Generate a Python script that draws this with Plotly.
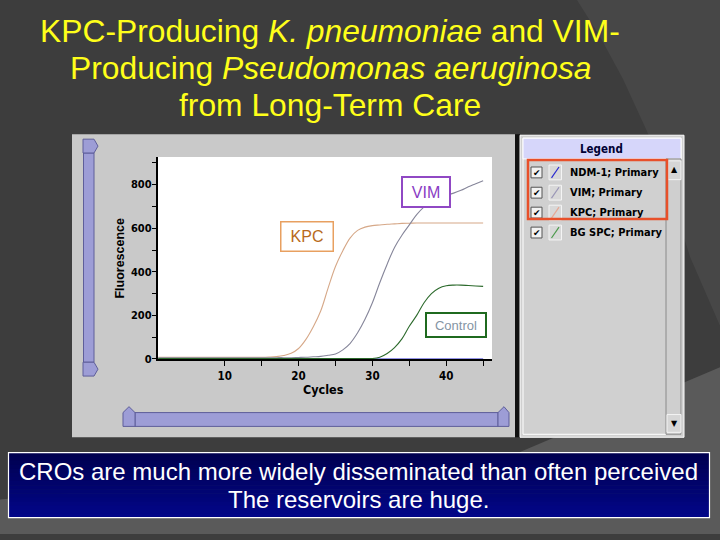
import plotly.graph_objects as go

# ---------------- data ----------------
cycles = list(range(1, 46))
kpc = [8, 8, 8, 8, 8, 8, 8, 8, 8, 8, 8, 8, 8, 8, 8, 9, 11, 16, 26, 48,
       90, 148, 220, 325, 424, 497, 556, 590, 605, 612, 615, 618, 620, 622, 623,
       624, 624, 624, 624, 624, 624, 624, 624, 624, 624]
vim = [5, 5, 5, 5, 5, 5, 5, 5, 5, 5, 5, 5, 5, 5, 5, 5, 6, 6, 6, 7,
       8, 10, 12, 17, 23, 42, 72, 120, 182, 258, 350, 435, 512, 568, 615,
       662, 698, 722, 740, 750, 761, 774, 790, 804, 818]
control = [2, 2, 2, 2, 2, 2, 2, 2, 2, 2, 2, 2, 2, 2, 2, 2, 2, 2, 2, 2,
           2, 2, 2, 2, 2, 2, 2, 2, 2, 2, 8, 25, 52, 92, 150,
           200, 258, 300, 325, 336, 339, 339, 337, 335, 333]
ndm1 = [0] * 45

series_names = ["NDM-1", "VIM", "KPC", "Control"]
legend_labels = ["NDM-1; Primary", "VIM; Primary", "KPC; Primary", "BG SPC; Primary"]
x_tick_vals = [10, 15, 20, 25, 30, 35, 40, 45]
x_tick_text = ["10", "", "20", "", "30", "", "40", ""]
y_tick_vals = [0, 100, 200, 300, 400, 500, 600, 700, 800, 900]
y_tick_text = ["0", "", "200", "", "400", "", "600", "", "800", ""]
title_lines = ["KPC-Producing <i>K. pneumoniae</i> and VIM-",
               "Producing <i>Pseudomonas aeruginosa</i>",
               "from Long-Term Care"]
banner_lines = ["CROs are much more widely disseminated than often perceived",
                "The reservoirs are huge."]

# ---------------- helpers ----------------
W, H = 720, 540
def X(p): return p / W
def Y(p): return 1 - p / H

shapes = []
annos = []

def rect(x0, y0, x1, y1, fill="rgba(0,0,0,0)", line=None, lw=0, layer="below"):
    shapes.append(dict(type="rect", xref="paper", yref="paper",
                       x0=X(x0), x1=X(x1), y0=Y(y1), y1=Y(y0),
                       fillcolor=fill,
                       line=dict(color=line or "rgba(0,0,0,0)", width=lw),
                       layer=layer))

def poly(pts, fill, line=None, lw=0, layer="below"):
    d = "M " + " L ".join(f"{X(a):.5f},{Y(b):.5f}" for a, b in pts) + " Z"
    shapes.append(dict(type="path", xref="paper", yref="paper", path=d,
                       fillcolor=fill,
                       line=dict(color=line or "rgba(0,0,0,0)", width=lw),
                       layer=layer))

def seg(x0, y0, x1, y1, color, lw=1, layer="below"):
    shapes.append(dict(type="line", xref="paper", yref="paper",
                       x0=X(x0), x1=X(x1), y0=Y(y0), y1=Y(y1),
                       line=dict(color=color, width=lw), layer=layer))

def text(x, y, s, size, color, family="Liberation Sans", xanchor="center",
         yanchor="middle", angle=0):
    annos.append(dict(xref="paper", yref="paper", x=X(x), y=Y(y), text=s,
                      showarrow=False, xanchor=xanchor, yanchor=yanchor,
                      textangle=angle,
                      font=dict(size=size, color=color, family=family)))

NARROW = "Liberation Sans Narrow, DejaVu Sans Condensed, sans-serif"

# ---------------- slide background ----------------
poly([(577, 0), (600, 37), (623, 80), (647, 133), (665, 180), (690, 260),
      (720, 330), (720, 0)], "#474747")
poly([(0, 506), (520, 458), (720, 372), (720, 541), (0, 541)], "#5a5a5a")

# ---------------- screenshot panel ----------------
rect(72, 136, 515, 443, fill="#c9c9c9")
rect(515, 136, 520, 443, fill="#111111")
# white plot area
rect(157.5, 159, 492, 363.7, fill="#ffffff")

# left vertical slider
slider_fill = "#9d9dd6"
slider_line = "#5e5e9a"
rect(83.5, 155, 94, 367, fill=slider_fill, line=slider_line, lw=1)
poly([(83, 141), (94, 141), (98, 148), (94, 155), (83, 155)], slider_fill, slider_line, 1)
poly([(83, 367), (94, 367), (98, 374), (94, 381), (83, 381)], slider_fill, slider_line, 1)
# bottom horizontal slider
rect(135, 418, 498, 432, fill=slider_fill, line=slider_line, lw=1)
poly([(123, 432), (123, 418), (129, 412), (135, 418), (135, 432)], slider_fill, slider_line, 1)
poly([(498, 432), (498, 418), (504, 412), (509, 418), (509, 432)], slider_fill, slider_line, 1)

# ---------------- legend panel ----------------
rect(520, 137, 684, 443, fill="#d0d0d0", line="#ffffff", lw=1)
rect(523, 140, 681, 440, line="#ffffff", lw=1)
rect(523, 140, 681, 161, fill="#d6d6fa", line="#ffffff", lw=1)
text(601, 151, "<b>Legend</b>", 11.5, "#000033", family=NARROW)
# scrollbar
rect(666, 161, 681, 440, fill="#cfcfcf", line="#8a8a8a", lw=1)
rect(668, 163, 681, 182, fill="#d6d6d6", line="#f4f4f4", lw=1)
text(674.5, 172, "▲", 8, "#000000", family="DejaVu Sans")
rect(667, 420, 681, 438, fill="#d6d6d6", line="#f4f4f4", lw=1)
text(674, 429, "▼", 8, "#000000", family="DejaVu Sans")

row_y = [174.7, 195.2, 215.4, 235.6]
swatch_colors = ["#2a2ad0", "#9a96b6", "#e6a894", "#4c9a4c"]
for ry, lab, sc in zip(row_y, legend_labels, swatch_colors):
    rect(531, ry - 5.5, 542, ry + 5.5, fill="#f2f2f2", line="#555555", lw=1)
    text(536.5, ry + 0.5, "✔", 9, "#000000", family="DejaVu Sans")
    rect(549, ry - 7.5, 561.5, ry + 7.5, fill="#d8d8d8", line="#f4f4f4", lw=1)
    seg(551.5, ry + 5.5, 559, ry - 5.5, sc, 1.2)
    text(568, ry, f"<b>{lab}</b>", 11, "#000000", family=NARROW, xanchor="left")
rect(528, 162, 667, 222, line="#e8502a", lw=2.5, layer="above")

# ---------------- bottom banner ----------------
top_c = (0, 0, 80)
bot_c = (2, 6, 136)
n_b = 16
b_y0, b_y1 = 458.5, 524.5
for i in range(n_b):
    t = i / (n_b - 1)
    c = tuple(int(round(top_c[k] + (bot_c[k] - top_c[k]) * t)) for k in range(3))
    y0 = b_y0 + (b_y1 - b_y0) * i / n_b
    y1 = b_y0 + (b_y1 - b_y0) * (i + 1) / n_b + 0.6
    rect(8.5, y0, 709.5, min(y1, b_y1), fill=f"rgb{c}")
rect(8.5, b_y0, 709.5, b_y1, line="#ffffff", lw=1.2)
text(358.5, 478, banner_lines[0], 24, "#ffffff")
text(358.5, 506, banner_lines[1], 24, "#ffffff")

# ---------------- title ----------------
text(330, 31, title_lines[0], 31.8, "#ffff1a")
text(330, 69, title_lines[1], 31.8, "#ffff1a")
text(330, 106, title_lines[2], 31.8, "#ffff1a")

# ---------------- chart labels ----------------
text(120, 262, "<b>Fluorescence</b>", 12.5, "#000000", angle=-90)
text(323, 395, "<b>Cycles</b>", 12.5, "#000000", family=NARROW)

# callout boxes
annos.append(dict(xref="paper", yref="paper", x=X(426), y=Y(194.5), text="VIM",
                  showarrow=False, xanchor="center", yanchor="middle",
                  font=dict(size=16, color="#8a3cc4", family="Liberation Sans"),
                  bgcolor="#ffffff", bordercolor="#9048c4", borderwidth=2,
                  width=44, height=26))
annos.append(dict(xref="paper", yref="paper", x=X(306.5), y=Y(239.5), text="KPC",
                  showarrow=False, xanchor="center", yanchor="middle",
                  font=dict(size=16, color="#b86a1c", family="Liberation Sans"),
                  bgcolor="#ffffff", bordercolor="#e8a060", borderwidth=1.5,
                  width=49, height=26))
annos.append(dict(xref="paper", yref="paper", x=X(456), y=Y(329), text="Control",
                  showarrow=False, xanchor="center", yanchor="middle",
                  font=dict(size=13, color="#8494a4", family="Liberation Sans"),
                  bgcolor="#ffffff", bordercolor="#1f6a1f", borderwidth=2,
                  width=56, height=20))

# ---------------- traces ----------------
fig = go.Figure()
trace_specs = [("NDM-1", ndm1, "#2a2ad0"), ("KPC", kpc, "#d6a888"),
               ("VIM", vim, "#86869a"), ("Control", control, "#2c6a2c")]
for name, vals, col in trace_specs:
    fig.add_trace(go.Scatter(x=cycles, y=vals, mode="lines", name=name,
                             line=dict(color=col, width=1.1, shape="spline",
                                       smoothing=1.0),
                             showlegend=False, hoverinfo="skip"))

fig.update_layout(
    width=W, height=H, autosize=False,
    margin=dict(l=0, r=0, t=0, b=0),
    paper_bgcolor="#3d3d3d",
    plot_bgcolor="rgba(0,0,0,0)",
    shapes=shapes,
    annotations=annos,
    xaxis=dict(domain=[X(157.5), X(492)], range=[0.9, 46.2],
               tickvals=x_tick_vals, ticktext=[f"<b>{t}</b>" if t else "" for t in x_tick_text],
               ticks="outside", ticklen=5, tickwidth=1.3, tickcolor="#000000",
               showline=True, linecolor="#000000", linewidth=1.5,
               showgrid=False, zeroline=False,
               tickfont=dict(family=NARROW, size=11.5, color="#000000")),
    yaxis=dict(domain=[Y(363.7), Y(159)], range=[0, 927],
               tickvals=y_tick_vals, ticktext=[f"<b>{t}</b>" if t else "" for t in y_tick_text],
               ticks="outside", ticklen=4, tickwidth=1.3, tickcolor="#000000",
               ticklabelstandoff=-2,
               showline=True, linecolor="#000000", linewidth=1.5,
               showgrid=False, zeroline=False,
               tickfont=dict(family=NARROW, size=11, color="#000000")),
)

fig.write_html("out.html",
               config={"displayModeBar": False, "responsive": False},
               post_script="document.body.style.margin='0';")
